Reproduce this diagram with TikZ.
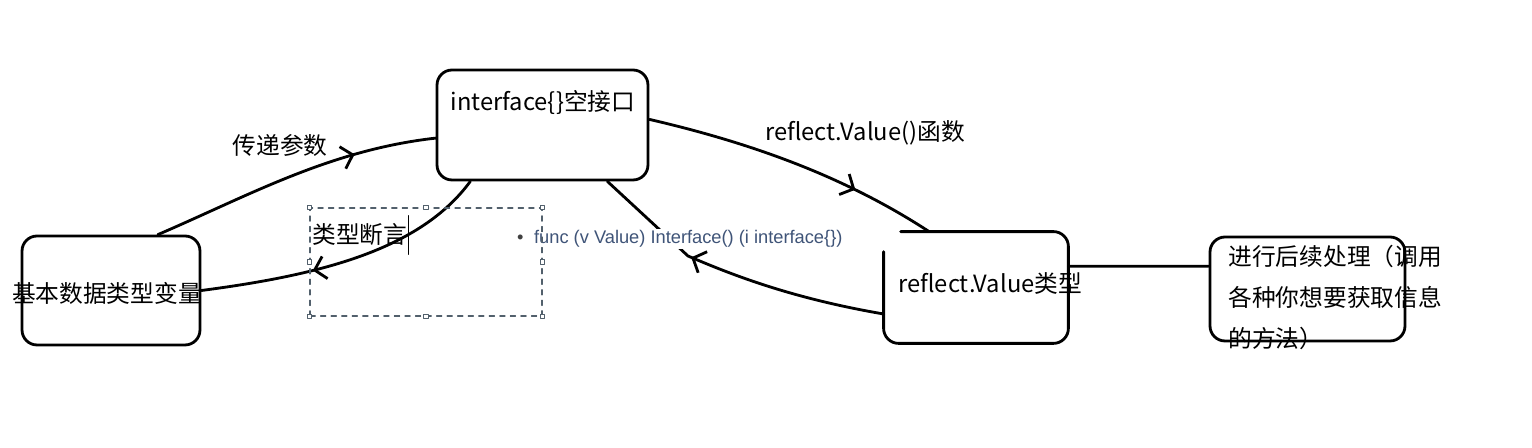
\documentclass[tikz,border=0pt]{standalone}
\usepackage{fontspec}
\setmainfont{Noto Sans CJK SC}
\newfontfamily\codefont{Liberation Sans}
\usetikzlibrary{arrows.meta,decorations.markings}
\definecolor{codeblue}{HTML}{3F5478}
\definecolor{selgray}{HTML}{52606C}
\begin{document}
\begin{tikzpicture}[x=0.02cm,y=-0.02cm, line join=round, line cap=round, line width=1.6pt,
    font=\fontsize{13.5}{16}\selectfont,
    box/.style={rounded corners=0.3cm, inner sep=0pt},
    lbl/.style={inner sep=0pt},
    handle/.style={draw=selgray, fill=white, line width=0.5pt, minimum size=0.09cm, inner sep=0pt},
    arr/.style={postaction={decorate}, decoration={markings,
        mark=at position #1 with {\arrow{Straight Barb[length=6pt,width=13pt]}}}}]
    \useasboundingbox (0,0) rectangle (1532,448);

    % cac hop
    \node[box, draw, minimum width=3.56cm, minimum height=2.18cm] (A) at (111,290.5) {};
    \node[box, draw, minimum width=4.22cm, minimum height=2.2cm] (B) at (542.5,125) {};
    \node[box, minimum width=3.64cm, minimum height=2.18cm] (C) at (976,287.5) {};
    \node[box, draw, minimum width=3.9cm, minimum height=2.08cm] (D) at (1307.5,289) {};
    \draw[rounded corners=0.3cm] ([xshift=0.34cm]C.north west) -- (C.north east)
        -- (C.south east) -- (C.south west) -- ([yshift=-0.4cm]C.north west);

    % chu trong hop
    \node[lbl] (Atxt) at (107,293) {基本数据类型变量};
    \node[lbl] (Btxt) at (543,102) {interface\{\}空接口};
    \node[lbl, anchor=west] (Ctxt) at (897,284) {reflect.Value类型};
    \node[lbl, anchor=north west, align=left, font=\fontsize{13.5}{23.3}\selectfont] (Dtxt)
        at (1227,244) {进行后续处理（调用\\各种你想要获取信息\\的方法）};

    % cac mui ten
    \coordinate (bend) at (688,256);
    \draw[arr=0.72] (A.50) .. controls (250,195) and (330,150) .. (B.187);
    \draw[arr=0.62] (B.218) .. controls (420,250) and (320,275) .. (A.east);
    \draw[arr=0.72] (B.3) .. controls (760,145) and (850,180) .. (C.130);
    \draw[arr=0.64] (C.196) .. controls (790,298) and (730,274) .. (bend) -- (B.-41);
    \draw (C.13) -- (D.167);

    \node[lbl] (l1) at (280,145) {传递参数};
    \node[lbl] (l3) at (865,133) {reflect.Value()函数};
    \node[fill=white, inner sep=1pt, anchor=west, text=codeblue,
        font=\codefont\fontsize{10.4}{12}\selectfont] (fn) at (514,239)
        {\textcolor{darkgray}{•}\hspace{6pt}func (v Value) Interface() (i interface\{\})};

    % khung chon
    \node[draw=selgray, dashed, line width=0.6pt, minimum width=4.64cm, minimum height=2.16cm,
        inner sep=0pt] (sel) at (426,262) {};
    \foreach \a [count=\i] in {north west,north,north east,east,south east,south,south west,west}
        \node[handle] (h\i) at (sel.\a) {};
    \node[lbl, anchor=west] (l2) at (311,235) {类型断言};
    \draw[line width=0.6pt] ([yshift=4pt]l2.north east) -- ([yshift=-4pt]l2.south east);
\end{tikzpicture}
\end{document}
